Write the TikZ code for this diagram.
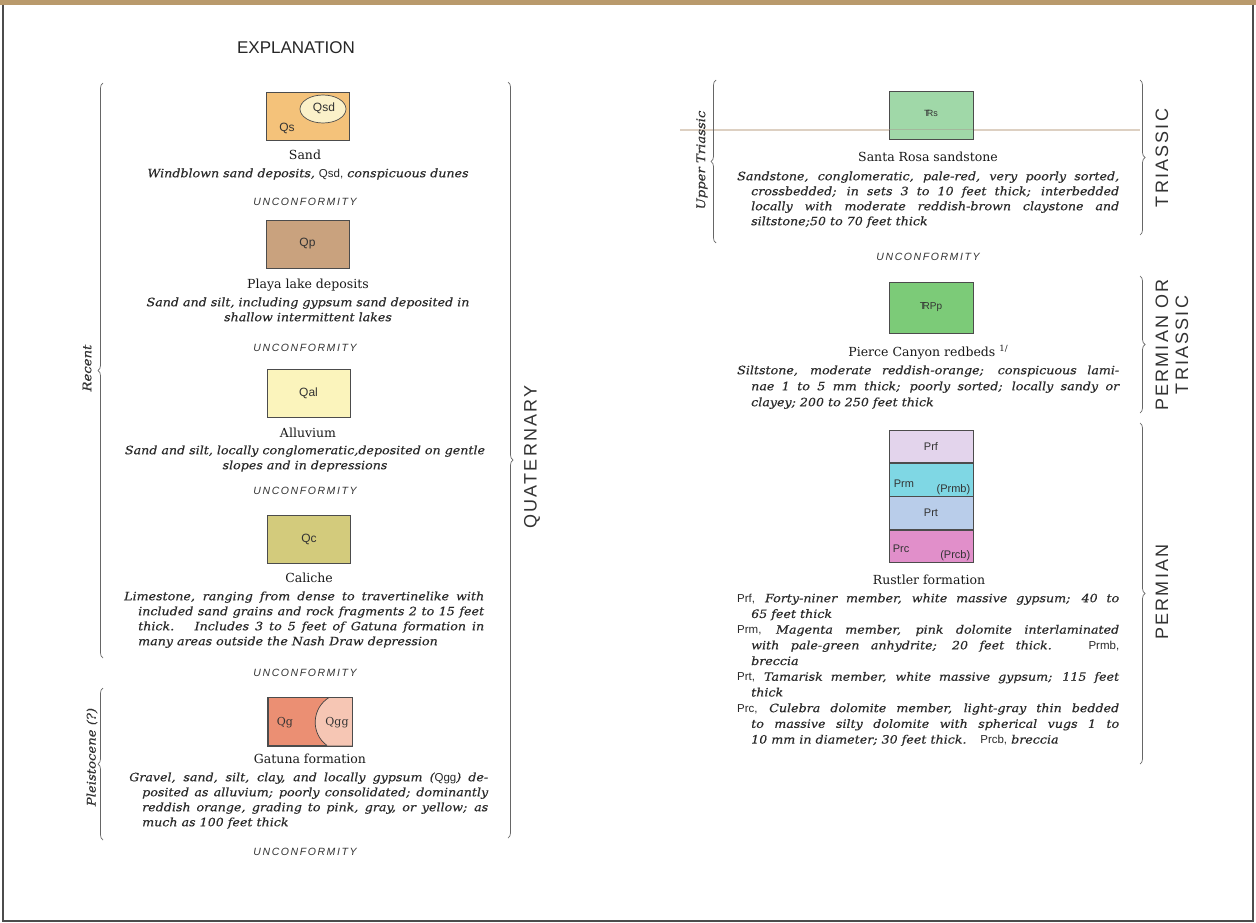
\documentclass[tikz,border=0pt]{standalone}
\usepackage{fontspec}
\setmainfont{DejaVu Serif}
\setsansfont{Liberation Sans}
\usetikzlibrary{decorations.pathreplacing}
\newfontfamily\serifst{DejaVu Serif}[FakeStretch=1.1, FakeBold=0.4]
\newfontfamily\sansera{Liberation Sans}[LetterSpace=12]
\newfontfamily\sansunc{Liberation Sans}[LetterSpace=15]
\newcommand\descfont{\serifst\itshape\fontsize{11.5}{15}\selectfont}
\newcommand\rustfont{\serifst\itshape\fontsize{11.5}{15.7}\selectfont}
\newcommand\pcfont{\serifst\itshape\fontsize{11.5}{16}\selectfont}
\newcommand\titlefont{\rmfamily\fontsize{12.5}{15}\selectfont}
\newcommand\erafont{\sansera\fontsize{18}{20}\selectfont}
\newcommand\uncfont{\sansunc\itshape\fontsize{10.5}{12}\selectfont}
\newcommand\epochfont{\serifst\itshape\fontsize{12}{14}\selectfont}
\newcommand\boxfont{\sffamily\fontsize{12}{14}\selectfont}
\newcommand\sfs[1]{{\sffamily\upshape\fontsize{11.5}{15}\selectfont #1}}
\newcommand\jl[2]{\makebox[#1][s]{#2}}
\newcommand\trsym{T\kern-0.32em R}
\definecolor{cQs}{HTML}{F4C27A}
\definecolor{cQsd}{HTML}{FBF1C9}
\definecolor{cQp}{HTML}{C9A27E}
\definecolor{cQal}{HTML}{FBF4BC}
\definecolor{cQc}{HTML}{D3CB7C}
\definecolor{cQg}{HTML}{EB8F73}
\definecolor{cQgg}{HTML}{F6C6B4}
\definecolor{cTrs}{HTML}{A0D8A8}
\definecolor{cTRPp}{HTML}{7CCB78}
\definecolor{cPrf}{HTML}{E3D4EC}
\definecolor{cPrm}{HTML}{7FD7E4}
\definecolor{cPrt}{HTML}{B9CDEA}
\definecolor{cPrc}{HTML}{E18FCA}
\definecolor{inkc}{HTML}{2A2A2A}
\definecolor{strip}{HTML}{B99A6C}
\definecolor{foldc}{HTML}{DDD0C2}
\tikzset{
  geobox/.style={draw=black!70, line width=0.8pt, minimum width=83pt, minimum height=48pt, inner sep=0pt, font=\boxfont},
  rbox/.style={draw=black!70, line width=0.8pt, minimum width=84pt, inner sep=0pt, font=\boxfont},
  boxlbl/.style={inner sep=0pt, font=\boxfont, text=black!80},
  title/.style={anchor=base, inner sep=0pt, font=\titlefont, text=black!90},
  cdesc/.style={anchor=north, inner sep=0pt, align=center, font=\descfont, text=inkc},
  ldesc/.style={anchor=north west, inner sep=0pt, align=left, font=\descfont, text=inkc},
  unc/.style={anchor=base, inner sep=0pt, font=\uncfont, text=black!80},
  era/.style={rotate=90, inner sep=0pt, align=center, font=\erafont, text=black!80},
  epoch/.style={rotate=90, inner sep=0pt, font=\epochfont, text=black!80},
  gbrace/.style={decorate, decoration={brace, amplitude=5pt}, draw=black!60, line width=0.7pt},
}
\begin{document}
\begin{tikzpicture}[x=1pt,y=-1pt]
\useasboundingbox (0,0) rectangle (1256,923);
\fill[white] (0,0) rectangle (1256,923);
\fill[strip] (0,0) rectangle (1256,5);
\draw[black!70, line width=1.2pt] (3,5) -- (3,921) -- (1253,921) -- (1253,5);

\node[anchor=base, inner sep=0pt, font=\sffamily\fontsize{17}{20}\selectfont, text=black!85] (expl) at (296,54) {EXPLANATION};

% ---------- left column braces
\coordinate (recB) at (103,658); \coordinate (recT) at (103,83);
\draw[gbrace] (recB) -- (recT);
\node[epoch] (recent) at (87,368) {Recent};
\coordinate (pleB) at (103,840); \coordinate (pleT) at (103,688);
\draw[gbrace] (pleB) -- (pleT);
\node[epoch] (pleist) at (92,757) {Pleistocene (?)};
\coordinate (quaT) at (508,82); \coordinate (quaB) at (508,838);
\draw[gbrace] (quaT) -- (quaB);
\node[era] (quat) at (532,457) {QUATERNARY};

% ---------- Sand
\node[geobox, fill=cQs] (qs) at (307.5,116) {};
\draw[black!70, line width=0.7pt, fill=cQsd] (323,109) ellipse [x radius=23, y radius=14];
\node[boxlbl] (qsl) at (287,128) {Qs};
\node[boxlbl] (qsdl) at (324,108) {Qsd};
\node[title] (sandt) at (305,160) {Sand};
\node[cdesc] (sandd) at (308,168.3) {Windblown sand deposits, \sfs{Qsd,} conspicuous dunes};
\node[unc] (u1) at (305,205.5) {UNCONFORMITY};

% ---------- Playa
\node[geobox, fill=cQp] (qp) at (307.5,244) {};
\node[boxlbl] (qpl) at (307.5,244) {Qp};
\node[title] (playt) at (308,288) {Playa lake deposits};
\node[cdesc] (playd) at (308,297.3) {Sand and silt, including gypsum sand deposited in\\shallow intermittent lakes};
\node[unc] (u2) at (305,351.5) {UNCONFORMITY};

% ---------- Alluvium
\node[geobox, fill=cQal] (qal) at (308.5,393) {};
\node[boxlbl] (qall) at (308.5,393) {Qal};
\node[title] (allt) at (308,437) {Alluvium};
\node[cdesc] (alld) at (305,445.3) {Sand and silt, locally conglomeratic,deposited on gentle\\slopes and in depressions};
\node[unc] (u3) at (305,494.5) {UNCONFORMITY};

% ---------- Caliche
\node[geobox, fill=cQc] (qc) at (309,539) {};
\node[boxlbl] (qcl) at (309,539) {Qc};
\node[title] (calt) at (309,582) {Caliche};
\node[ldesc] (cald) at (124,591.3) {\jl{360pt}{Limestone, ranging from dense to travertinelike with}\\
\hspace*{14pt}\jl{346pt}{included sand grains and rock fragments 2 to 15 feet}\\
\hspace*{14pt}\jl{346pt}{thick.\hspace{0.8em} Includes 3 to 5 feet of Gatuna formation in}\\
\hspace*{14pt}many areas outside the Nash Draw depression};
\node[unc] (u4) at (305,676.5) {UNCONFORMITY};

% ---------- Gatuna
\node[geobox, fill=cQg, minimum width=84pt] (qg) at (310,721.5) {};
\fill[cQgg] (329,697.5) .. controls (312,708) and (310,733) .. (327,745.5) -- (352,745.5) -- (352,697.5) -- cycle;
\draw[black!75, line width=0.7pt] (329,697.5) .. controls (312,708) and (310,733) .. (327,745.5);
\draw[black!70, line width=0.8pt] (qg.north west) rectangle (qg.south east);
\node[boxlbl, font=\rmfamily\fontsize{11}{12}\selectfont] (qgl) at (285,723) {Qg};
\node[boxlbl, font=\rmfamily\fontsize{11}{12}\selectfont] (qggl) at (337,723) {Qgg};
\node[title] (gatt) at (310,763) {Gatuna formation};
\node[ldesc] (gatd) at (129,772.3) {\jl{359pt}{Gravel, sand, silt, clay, and locally gypsum (\sfs{Qgg}) de-}\\
\hspace*{13pt}\jl{346pt}{posited as alluvium; poorly consolidated; dominantly}\\
\hspace*{13pt}\jl{346pt}{reddish orange, grading to pink, gray, or yellow; as}\\
\hspace*{13pt}much as 100 feet thick};
\node[unc] (u5) at (305,855.5) {UNCONFORMITY};

% ---------- right column
\draw[foldc, line width=1.2pt] (680,130) -- (1140,130);
\coordinate (utB) at (716,243); \coordinate (utT) at (716,80);
\draw[gbrace] (utB) -- (utT);
\node[epoch] (uptri) at (702,160) {Upper Triassic};
\coordinate (triT) at (1140,80); \coordinate (triB) at (1140,235);
\draw[gbrace] (triT) -- (triB);
\node[era] (tri) at (1162,158) {TRIASSIC};

\node[rbox, fill=cTrs, minimum height=48pt] (trs) at (931,115) {};
\draw[foldc!75!black, line width=1pt, opacity=0.5] (trs.west |- 0,130) -- (trs.east |- 0,130);
\node[boxlbl, font=\sffamily\fontsize{9}{10}\selectfont] (trsl) at (931,113) {\trsym s};
\node[title] (srt) at (928,162) {Santa Rosa sandstone};
\node[ldesc] (srd) at (737,171.3) {\jl{382pt}{Sandstone, conglomeratic, pale-red, very poorly sorted,}\\
\hspace*{14pt}\jl{368pt}{crossbedded; in sets 3 to 10 feet thick; interbedded}\\
\hspace*{14pt}\jl{368pt}{locally with moderate reddish-brown claystone and}\\
\hspace*{14pt}siltstone;50 to 70 feet thick};
\node[unc] (u6) at (928,260.5) {UNCONFORMITY};

\coordinate (potT) at (1140,276); \coordinate (potB) at (1140,413);
\draw[gbrace] (potT) -- (potB);
\node[era] (pot) at (1172,345) {PERMIAN OR\\TRIASSIC};
\node[rbox, fill=cTRPp, minimum height=51pt] (trpp) at (931,307.5) {};
\node[boxlbl, font=\sffamily\fontsize{10}{11}\selectfont] (trppl) at (931,307) {\trsym Pp};
\node[title] (pct) at (928,356) {Pierce Canyon redbeds \raisebox{5pt}{\fontsize{8.5}{9}\selectfont 1/}};
\node[ldesc, font=\pcfont] (pcd) at (737,365.3) {\jl{382pt}{Siltstone, moderate reddish-orange; conspicuous lami-}\\
\hspace*{14pt}\jl{368pt}{nae 1 to 5 mm thick; poorly sorted; locally sandy or}\\
\hspace*{14pt}clayey; 200 to 250 feet thick};

\coordinate (perT) at (1140,423); \coordinate (perB) at (1140,764);
\draw[gbrace] (perT) -- (perB);
\node[era] (per) at (1162,592) {PERMIAN};
\node[rbox, fill=cPrf, minimum height=32.5pt] (prf) at (931,446.5) {};
\node[rbox, fill=cPrm, minimum height=32.5pt, anchor=north] (prm) at (prf.south) {};
\node[rbox, fill=cPrt, minimum height=32.5pt, anchor=north] (prt) at (prm.south) {};
\node[rbox, fill=cPrc, minimum height=32.5pt, anchor=north] (prc) at (prt.south) {};
\node[boxlbl, font=\sffamily\fontsize{11}{12}\selectfont] (prfl) at (prf.center) {Prf};
\node[boxlbl, font=\sffamily\fontsize{11}{12}\selectfont, anchor=west] (prml) at ([xshift=5pt,yshift=-4pt]prm.west) {Prm};
\node[boxlbl, font=\sffamily\fontsize{11}{12}\selectfont, anchor=east] (prmbl) at ([xshift=-3pt,yshift=7pt]prm.south east) {(Prmb)};
\node[boxlbl, font=\sffamily\fontsize{11}{12}\selectfont] (prtl) at (prt.center) {Prt};
\node[boxlbl, font=\sffamily\fontsize{11}{12}\selectfont, anchor=west] (prcl) at ([xshift=4pt,yshift=-2pt]prc.west) {Prc};
\node[boxlbl, font=\sffamily\fontsize{11}{12}\selectfont, anchor=east] (prcbl) at ([xshift=-3pt,yshift=7pt]prc.south east) {(Prcb)};
\node[title] (rft) at (929,584) {Rustler formation};
\node[ldesc, font=\rustfont] (rfd) at (737,593.3) {\jl{382pt}{\sfs{Prf,} Forty-niner member, white massive gypsum; 40 to}\\
\hspace*{14pt}65 feet thick\\
\jl{382pt}{\sfs{Prm,} Magenta member, pink dolomite interlaminated}\\
\hspace*{14pt}\jl{368pt}{with pale-green anhydrite; 20 feet thick.\hspace{0.8em} \sfs{Prmb,}}\\
\hspace*{14pt}breccia\\
\jl{382pt}{\sfs{Prt,} Tamarisk member, white massive gypsum; 115 feet}\\
\hspace*{14pt}thick\\
\jl{382pt}{\sfs{Prc,} Culebra dolomite member, light-gray thin bedded}\\
\hspace*{14pt}\jl{368pt}{to massive silty dolomite with spherical vugs 1 to}\\
\hspace*{14pt}10 mm in diameter; 30 feet thick.\hspace{1.2em}\sfs{Prcb,} breccia};
\end{tikzpicture}
\end{document}
